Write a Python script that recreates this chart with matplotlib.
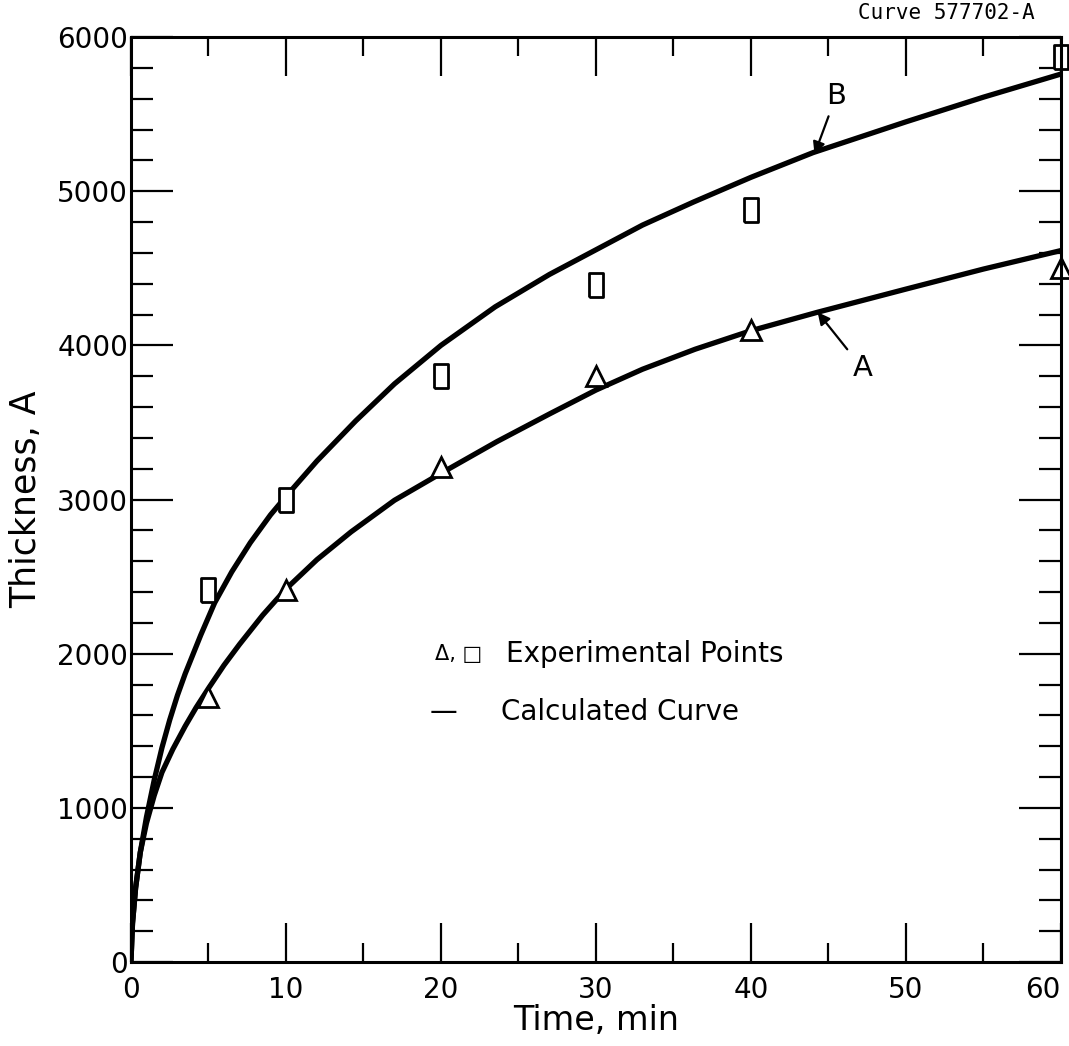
import matplotlib
matplotlib.use('Agg')
import matplotlib.pyplot as plt
from matplotlib import ticker

plt.rcParams['font.family'] = ['DejaVu Sans Condensed', 'Liberation Sans Narrow', 'DejaVu Sans']

# calculated curve B
t_b = [0, 0.1, 0.3, 0.6, 1.0, 1.5, 2.0, 2.5, 3.0, 3.5, 4.5, 5.4, 6.5, 7.7, 9.0,
       10, 12, 14.5, 17, 20, 23.5, 27, 30, 33, 36.3, 40, 44, 50, 55, 60]
v_b = [0, 250, 480, 710, 940, 1180, 1390, 1570, 1730, 1870, 2120, 2330, 2530,
       2720, 2900, 3020, 3250, 3510, 3750, 4000, 4250, 4460, 4620, 4780, 4930,
       5090, 5250, 5450, 5610, 5760]

# calculated curve A
t_a = [0, 0.1, 0.3, 0.6, 1.0, 1.5, 2.0, 2.7, 3.5, 4.2, 5.0, 6.0, 7.0, 8.5, 10,
       12, 14.2, 17, 20, 23.6, 27, 30, 33, 36.4, 40, 44.3, 50, 55, 60]
v_a = [0, 250, 480, 710, 900, 1080, 1230, 1380, 1530, 1650, 1775, 1925, 2060,
       2250, 2420, 2610, 2790, 2995, 3170, 3375, 3555, 3710, 3845, 3975, 4095,
       4215, 4365, 4495, 4615]

# experimental points
t_exp = [5, 10, 20, 30, 40, 60]
sq_exp = [2410, 3000, 3800, 4390, 4880, 5870]
tri_exp = [1720, 2410, 3210, 3800, 4100, 4500]

x_ticks = [0, 10, 20, 30, 40, 50, 60]
y_ticks = [0, 1000, 2000, 3000, 4000, 5000, 6000]

rect = [(-0.6, -1), (0.6, -1), (0.6, 1), (-0.6, 1), (-0.6, -1)]

fig = plt.figure(figsize=(10.69, 10.46), dpi=100)
ax = fig.add_axes([0.1225, 0.0803, 0.870, 0.8843])

ax.plot(t_b, v_b, '-', color='black', linewidth=3.8, solid_capstyle='round',
        solid_joinstyle='round')
ax.plot(t_a, v_a, '-', color='black', linewidth=3.8, solid_capstyle='round',
        solid_joinstyle='round')
ax.plot(t_exp, sq_exp, linestyle='none', marker=rect, markersize=17,
        markerfacecolor='white', markeredgecolor='black', markeredgewidth=2.0,
        clip_on=False)
ax.plot(t_exp, tri_exp, linestyle='none', marker='^', markersize=15,
        markerfacecolor='white', markeredgecolor='black', markeredgewidth=2.0,
        clip_on=False)

ax.set_xlim(0, 60)
ax.set_ylim(0, 6000)
ax.set_xticks(x_ticks)
ax.set_yticks(y_ticks)
ax.xaxis.set_minor_locator(ticker.MultipleLocator(5))
ax.yaxis.set_minor_locator(ticker.MultipleLocator(200))
ax.tick_params(which='both', direction='in', top=True, right=True,
               width=1.6, labelsize=20)
ax.tick_params(axis='x', which='major', length=28, pad=10)
ax.tick_params(axis='x', which='minor', length=14)
ax.tick_params(axis='y', which='major', length=30, pad=2)
ax.tick_params(axis='y', which='minor', length=16)
for s in ax.spines.values():
    s.set_linewidth(2.2)
ax.get_xticklabels()[-1].set_horizontalalignment('right')

ax.set_xlabel('Time, min', fontsize=24, labelpad=0)
ax.set_ylabel('Thickness, A', fontsize=25, labelpad=10)

# curve labels with arrows
ax.annotate('B', xy=(44.1, 5240), xytext=(45.5, 5620), fontsize=21,
            ha='center', va='center',
            arrowprops=dict(arrowstyle='-|>', color='black', lw=1.6,
                            shrinkA=3, shrinkB=0, mutation_scale=18))
ax.annotate('A', xy=(44.3, 4215), xytext=(47.2, 3850), fontsize=21,
            ha='center', va='center',
            arrowprops=dict(arrowstyle='-|>', color='black', lw=1.6,
                            shrinkA=3, shrinkB=0, mutation_scale=18))

# key
ax.text(19.6, 2000, '\u0394, \u25A1', fontsize=15, ha='left', va='center',
        family='DejaVu Sans')
ax.text(24.2, 2000, 'Experimental Points', fontsize=20, ha='left', va='center')
ax.text(19.3, 1620, '\u2014', fontsize=20, ha='left', va='center',
        family='DejaVu Sans')
ax.text(23.9, 1620, 'Calculated Curve', fontsize=20, ha='left', va='center')

fig.text(0.968, 0.988, 'Curve 577702-A', fontsize=15, ha='right', va='center',
         family='DejaVu Sans Mono')

fig.savefig('out.png', dpi=100)
